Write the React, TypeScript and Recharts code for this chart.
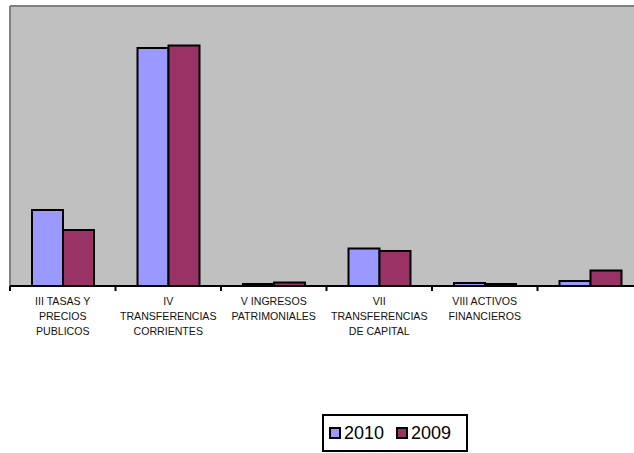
import { BarChart, Bar, XAxis, YAxis, CartesianGrid, Legend } from "recharts";

const categories = [
	"III TASAS Y\nPRECIOS\nPUBLICOS",
	"IV\nTRANSFERENCIAS\nCORRIENTES",
	"V INGRESOS\nPATRIMONIALES",
	"VII\nTRANSFERENCIAS\nDE CAPITAL",
	"VIII ACTIVOS\nFINANCIEROS",
	"",
];
const values2010 = [76, 238, 2, 37.5, 3, 5];
const values2009 = [56, 240.5, 3.5, 35, 2, 15.5];
const seriesNames = ["2010", "2009"];
const seriesColors = ["#9999ff", "#993366"];

const data = categories.map((c, i) => ({ cat: c, y2010: values2010[i], y2009: values2009[i] }));

const FONT = "'Liberation Sans', Arial, sans-serif";

function CategoryTick(props: any) {
	const { x, y, payload } = props;
	const half = payload?.offset ?? 52.75;
	const lines = String(payload.value).split("\n").filter((s) => s.length);
	return (
		<g>
			<line x1={x - half} x2={x - half} y1={y} y2={y + 5} stroke="#000" strokeWidth={2} />
			{lines.map((l, i) => (
				<text key={i}
				      x={x}
				      y={y + 18.5 + i * 15}
				      textAnchor="middle"
				      fontSize={10.6}
				      fontFamily={FONT}
				      fill="#111">
					{l}
				</text>
			))}
		</g>
	);
}

function LegendBox() {
	return (
		<div style={{
			boxSizing: "border-box",
			width: 146,
			height: 38,
			border: "2px solid #000",
			background: "#fff",
			display: "flex",
			alignItems: "center",
			paddingLeft: 5,
			fontFamily: FONT,
			fontSize: 18,
			color: "#000",
		}}>
			{seriesNames.map((n, i) => (
				<span key={n} style={{ display: "flex", alignItems: "center", marginRight: 12 }}>
					<span style={{
						display: "inline-block",
						width: 8,
						height: 8,
						border: "2px solid #000",
						background: seriesColors[i],
						marginRight: 3,
					}} />
					{n}
				</span>
			))}
		</div>
	);
}

export default function App() {
	return (
		<div style={{ position: "fixed", left: 0, top: 0, width: 634, height: 453, overflow: "hidden", background: "#fff" }}>
			<BarChart width={650}
			          height={453}
			          data={data}
			          barGap={0}
			          barCategoryGap={22}
			          margin={{ top: 6, right: 7, left: 10, bottom: 0 }}>
				<CartesianGrid fill="#c0c0c0"
				               stroke="#808080"
				               strokeWidth={2}
				               horizontalCoordinatesGenerator={({ offset }: any) => [offset.top]}
				               verticalCoordinatesGenerator={({ offset }: any) => [offset.left]} />
				<XAxis dataKey="cat"
				       height={167}
				       interval={0}
				       tickSize={0}
				       tickMargin={0}
				       tickLine={false}
				       axisLine={{ stroke: "#000", strokeWidth: 2 }}
				       tick={<CategoryTick />} />
				<YAxis hide domain={[0, 280]} />
				<Legend layout="horizontal"
				        verticalAlign="middle"
				        align="center"
				        wrapperStyle={{ left: 322, top: 414, width: 146, height: 38 }}
				        content={() => <LegendBox />} />
				<Bar dataKey="y2010"
				     name={seriesNames[0]}
				     fill={seriesColors[0]}
				     stroke="#000"
				     strokeWidth={2}
				     isAnimationActive={false} />
				<Bar dataKey="y2009"
				     name={seriesNames[1]}
				     fill={seriesColors[1]}
				     stroke="#000"
				     strokeWidth={2}
				     isAnimationActive={false} />
			</BarChart>
		</div>
	);
}
